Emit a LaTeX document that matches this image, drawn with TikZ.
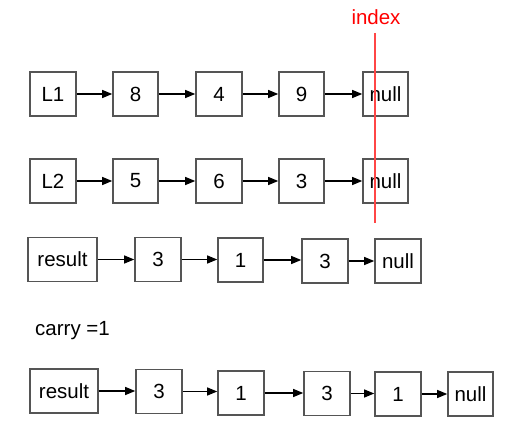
\documentclass[tikz,border=0pt]{standalone}
\usepackage{fontspec}
\setmainfont{Liberation Sans}
\usetikzlibrary{arrows.meta}
\definecolor{boxgray}{RGB}{85,85,85}
\definecolor{idxred}{RGB}{255,0,0}
\definecolor{linered}{RGB}{255,70,70}
\tikzset{
  cell/.style={draw=boxgray, line width=1.6pt, rectangle, minimum height=44pt, inner sep=0pt, font=\fontsize{20.5}{23}\selectfont, text=black},
  link/.style={line width=1.2pt, -{Triangle[length=10pt,width=8pt]}},
  lbl/.style={font=\fontsize{20.5}{23}\selectfont, inner sep=0pt}
}
\begin{document}
\begin{tikzpicture}[x=1pt,y=-1pt]
\useasboundingbox (0,0) rectangle (532,427);
% row 1
\node[cell, minimum width=46pt] (a0) at (53,94) {L1};
\node[cell, minimum width=45pt] (a1) at (135.5,94) {8};
\node[cell, minimum width=46pt] (a2) at (219,94) {4};
\node[cell, minimum width=45pt] (a3) at (301.5,94) {9};
\node[cell, minimum width=45pt] (a4) at (385.5,94) {null};
% row 2
\node[cell, minimum width=46pt] (b0) at (53,181) {L2};
\node[cell, minimum width=45pt] (b1) at (135.5,181) {5};
\node[cell, minimum width=46pt] (b2) at (219,181) {6};
\node[cell, minimum width=45pt] (b3) at (301.5,181) {3};
\node[cell, minimum width=45pt] (b4) at (385.5,181) {null};
% row 3
\node[cell, minimum width=69pt] (c0) at (62.5,259.5) {result};
\node[cell, minimum width=46pt] (c1) at (158,259.5) {3};
\node[cell, minimum width=45pt] (c2) at (240.5,260) {1};
\node[cell, minimum width=46pt] (c3) at (325,261) {3};
\node[cell, minimum width=46pt] (c4) at (398,261) {null};
% row 4
\node[cell, minimum width=68pt] (d0) at (64,391) {result};
\node[cell, minimum width=46pt] (d1) at (159,391.5) {3};
\node[cell, minimum width=46pt] (d2) at (241,393) {1};
\node[cell, minimum width=46pt] (d3) at (327,393.5) {3};
\node[cell, minimum width=46pt] (d4) at (398,394) {1};
\node[cell, minimum width=45pt] (d5) at (470.5,394) {null};
% arrows
\foreach \r/\n in {a/3,b/3,c/3,d/4}{
  \foreach \i [evaluate=\i as \j using int(\i+1)] in {0,...,\n}{
    \draw[link] (\r\i.east) -- (\r\i.east -| \r\j.west);
  }
}
% labels
\node[lbl, anchor=west] (carry) at (35,331) {carry =1};
\node[lbl, text=idxred] (idx) at (376,17) {index};
\coordinate (itop) at (375.3,33);
\coordinate (ibot) at (375.3,223);
\draw[draw=linered, line width=1.8pt] (itop) -- (ibot);
\end{tikzpicture}
\end{document}
